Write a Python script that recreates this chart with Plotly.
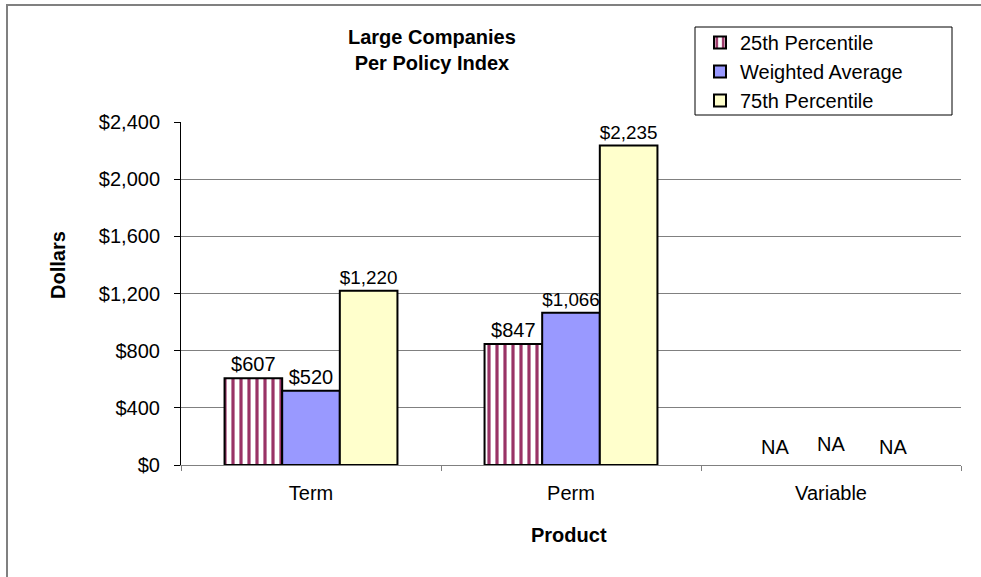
import plotly.graph_objects as go

# Per-policy index by product for large companies
products = ["Term", "Perm", "Variable"]
series_names = ["25th Percentile", "Weighted Average", "75th Percentile"]
p25 = [607, 847, None]
weighted_avg = [520, 1066, None]
p75 = [1220, 2235, None]
y_ticks = [0, 400, 800, 1200, 1600, 2000, 2400]

FONT = "Arial, Liberation Sans, sans-serif"
FS = 20
W, H = 981, 577
L, R, T, B = 181, 20, 122, 112  # plot-area margins in px
PW, PH = W - L - R, H - T - B


def px_x(x):
    return (x - L) / PW


def px_y(y):
    return (H - B - y) / PH


fig = go.Figure()
styles = [
    dict(color="white", pattern=dict(shape="|", fgcolor="#993366", bgcolor="white",
                                      fgopacity=1, size=8, solidity=0.4,
                                      fillmode="replace")),
    dict(color="#9999FF"),
    dict(color="#FFFFCC"),
]
for name, vals, st in zip(series_names, [p25, weighted_avg, p75], styles):
    fig.add_trace(go.Bar(
        x=products, y=vals, name=name,
        marker=dict(line=dict(color="black", width=2), **st),
        text=[f"${v:,}" if v is not None else "" for v in vals],
        textposition="outside", cliponaxis=False,
        textfont=dict(family=FONT, size=FS, color="black"),
    ))

# "NA" labels for the product with no data
for shift, ys in zip([-56, 0, 62], [5, 8, 5]):
    fig.add_annotation(x="Variable", y=0, xref="x", yref="y", text="NA",
                       showarrow=False, xshift=shift, yshift=ys, yanchor="bottom",
                       font=dict(family=FONT, size=FS, color="black"))

fig.update_layout(
    width=W, height=H,
    margin=dict(l=L, r=R, t=T, b=B, autoexpand=False),
    paper_bgcolor="white", plot_bgcolor="white",
    font=dict(family=FONT, size=FS, color="black"),
    barmode="group", bargap=0.335, bargroupgap=0,
    showlegend=True,
    legend=dict(x=px_x(700), y=px_y(23), xanchor="left", yanchor="top",
                bgcolor="rgba(0,0,0,0)", borderwidth=0,
                font=dict(family=FONT, size=FS, color="black"),
                tracegroupgap=0),
)

fig.update_yaxes(
    range=[0, 2400], tickvals=y_ticks, tickformat="$,",
    showgrid=True, gridcolor="#808080", gridwidth=1,
    showline=True, linecolor="black", linewidth=1,
    ticks="outside", ticklen=6, tickcolor="black",
    ticklabelstandoff=10,
    zeroline=False,
    tickfont=dict(family=FONT, size=FS, color="black"),
)
fig.update_xaxes(
    showline=True, linecolor="#808080", linewidth=1,
    ticks="outside", tickson="boundaries", ticklen=5, tickcolor="#808080",
    ticklabelstandoff=10,
    tickfont=dict(family=FONT, size=FS, color="black"),
)

# Chart title and axis titles
fig.add_annotation(x=px_x(432), y=px_y(50), xref="paper", yref="paper",
                   xanchor="center", yanchor="middle",
                   text="<b>Large Companies<br>Per Policy Index</b>", showarrow=False,
                   font=dict(family=FONT, size=FS, color="black"))
fig.add_annotation(x=px_x(58), y=px_y(265), xref="paper", yref="paper",
                   xanchor="center", yanchor="middle",
                   text="<b>Dollars</b>", textangle=-90, showarrow=False,
                   font=dict(family=FONT, size=FS, color="black"))
fig.add_annotation(x=px_x(569), y=px_y(535), xref="paper", yref="paper",
                   xanchor="center", yanchor="middle",
                   text="<b>Product</b>", showarrow=False,
                   font=dict(family=FONT, size=FS, color="black"))

# Legend frame and chart border
fig.add_shape(type="rect", xref="paper", yref="paper",
              x0=px_x(695), x1=px_x(952), y0=px_y(115), y1=px_y(27),
              line=dict(color="black", width=1), fillcolor="rgba(0,0,0,0)")
fig.add_shape(type="rect", xref="paper", yref="paper",
              x0=px_x(7), x1=px_x(995), y0=px_y(595), y1=px_y(5),
              line=dict(color="#808080", width=2), fillcolor="rgba(0,0,0,0)")

fig.write_html("out.html")
